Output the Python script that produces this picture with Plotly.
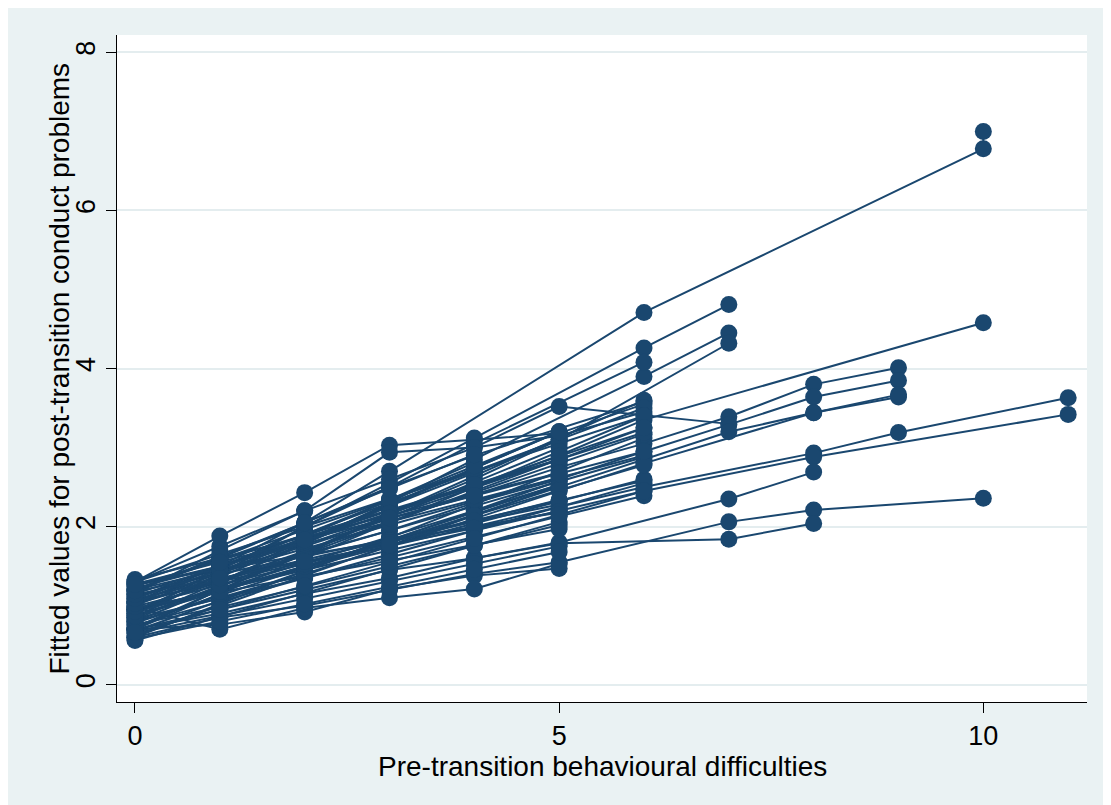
import plotly.graph_objects as go

# ---- data: fitted values per group (x = pre-transition difficulties, y = fitted post-transition conduct problems)
x0to4 = [0, 1, 2, 3, 4]
x0to5 = [0, 1, 2, 3, 4, 5]
x0to6 = [0, 1, 2, 3, 4, 5, 6]

g01_x = [0, 1, 2, 3, 6, 10, 10]
g01_y = [1.05, 1.50, 2.05, 2.70, 4.71, 6.78, 7.00]
g02_x = [0, 1, 2, 3, 4, 6, 7]
g02_y = [0.90, 1.45, 2.00, 2.55, 3.12, 4.26, 4.81]
g03_x = [0, 1, 2, 3, 4, 6, 7]
g03_y = [0.95, 1.30, 1.80, 2.30, 2.85, 3.90, 4.45]
g04_x = [0, 1, 2, 3, 4, 5, 7]
g04_y = [0.70, 1.20, 1.65, 2.15, 2.60, 3.10, 4.32]
g05_x = [0, 1, 2, 3, 4, 6]
g05_y = [0.85, 1.40, 2.00, 2.50, 3.05, 4.08]
g06_x = [0, 1, 2, 3, 4, 6]
g06_y = [1.20, 1.60, 2.05, 2.50, 2.90, 3.58]
g07_x = [0, 1, 2, 3, 4, 5, 7]
g07_y = [1.30, 1.75, 2.20, 2.60, 3.00, 3.52, 3.30]
g08_x = [0, 1, 2, 3, 4, 5, 6, 10]
g08_y = [1.25, 1.50, 1.85, 2.20, 2.50, 2.90, 3.35, 4.58]
g09_x = [0, 1, 2, 3, 4, 5, 6, 7, 8, 9]
g09_y = [1.20, 1.45, 1.75, 2.10, 2.40, 2.75, 3.05, 3.39, 3.80, 4.01]
g10_x = [0, 1, 2, 3, 4, 5, 6, 7, 8, 9]
g10_y = [1.05, 1.30, 1.65, 1.95, 2.30, 2.60, 2.95, 3.29, 3.64, 3.85]
g11_x = [0, 1, 2, 3, 4, 5, 6, 7, 8, 9]
g11_y = [0.95, 1.20, 1.50, 1.80, 2.15, 2.50, 2.85, 3.20, 3.44, 3.64]
g12_x = [0, 1, 2, 3, 4, 5, 6, 8, 9]
g12_y = [0.80, 1.10, 1.40, 1.75, 2.10, 2.45, 2.80, 3.44, 3.67]
g13_x = [0, 1, 2, 3, 4, 5, 6, 8, 9, 11]
g13_y = [1.05, 1.30, 1.55, 1.75, 2.00, 2.25, 2.50, 2.93, 3.19, 3.63]
g14_x = [0, 1, 2, 3, 4, 5, 6, 8, 11]
g14_y = [0.95, 1.20, 1.45, 1.70, 1.95, 2.20, 2.45, 2.88, 3.42]
g15_x = [0, 1, 2, 3, 4, 5, 7, 8]
g15_y = [0.70, 0.95, 1.20, 1.45, 1.60, 1.80, 2.35, 2.69]
g16_x = [0, 1, 2, 3, 4, 5, 7, 8, 10]
g16_y = [0.60, 0.85, 1.00, 1.20, 1.40, 1.55, 2.06, 2.21, 2.36]
g17_x = [0, 1, 2, 3, 4, 5, 7, 8]
g17_y = [0.70, 0.90, 1.15, 1.35, 1.60, 1.79, 1.84, 2.04]

t1_y = [1.30, 1.88, 2.43, 3.03, 3.10, 3.18, 3.55]
t2_y = [1.15, 1.70, 2.20, 2.94, 3.00, 3.15, 3.45]
b1_y = [0.70, 0.76, 0.92, 1.21, 1.38, 1.47]
b2_y = [0.98, 0.70, 0.97, 1.10, 1.21, 1.53]

d01_y = [0.56, 0.86, 1.16, 1.46, 1.76, 2.06]
d02_y = [0.60, 1.02, 1.44, 1.86, 2.28, 2.70, 3.12]
d03_y = [0.65, 0.87, 1.09, 1.31, 1.53, 1.75]
d04_y = [0.68, 1.06, 1.44, 1.82, 2.20, 2.58]
d05_y = [0.72, 1.20, 1.68, 2.16, 2.64, 3.12, 3.60]
d06_y = [0.75, 1.05, 1.35, 1.65, 1.95, 2.25, 2.55]
d07_y = [0.78, 1.13, 1.48, 1.83, 2.18, 2.53]
d08_y = [0.80, 1.24, 1.68, 2.12, 2.56, 3.00]
d09_y = [0.83, 1.09, 1.35, 1.61, 1.87, 2.13, 2.39]
d10_y = [0.85, 1.25, 1.65, 2.05, 2.45, 2.85, 3.25]
d11_y = [0.88, 1.21, 1.54, 1.87, 2.20, 2.53]
d12_y = [0.90, 1.36, 1.82, 2.28, 2.74, 3.20]
d13_y = [0.92, 1.20, 1.48, 1.76, 2.04, 2.32, 2.60]
d14_y = [0.95, 1.32, 1.69, 2.06, 2.43, 2.80, 3.17]
d15_y = [0.97, 1.17, 1.37, 1.57, 1.77, 1.97]
d16_y = [1.00, 1.42, 1.84, 2.26, 2.68, 3.10]
d17_y = [1.02, 1.33, 1.64, 1.95, 2.26, 2.57, 2.88]
d18_y = [1.05, 1.41, 1.77, 2.13, 2.49, 2.85]
d19_y = [1.08, 1.33, 1.58, 1.83, 2.08, 2.33, 2.58]
d20_y = [1.10, 1.50, 1.90, 2.30, 2.70, 3.10, 3.50]
d21_y = [1.12, 1.42, 1.72, 2.02, 2.32, 2.62]
d22_y = [1.15, 1.49, 1.83, 2.17, 2.51, 2.85, 3.19]
d23_y = [1.18, 1.40, 1.62, 1.84, 2.06, 2.28]
d24_y = [1.20, 1.58, 1.96, 2.34, 2.72]
d25_y = [1.22, 1.50, 1.78, 2.06, 2.34, 2.62, 2.90]
d26_y = [1.25, 1.57, 1.89, 2.21, 2.53, 2.85]
d27_y = [1.28, 1.46, 1.64, 1.82, 2.00, 2.18]
d28_y = [1.30, 1.65, 2.00, 2.35, 2.70, 3.05, 3.40]
d29_y = [1.33, 1.60, 1.87, 2.14, 2.41, 2.68]
e01_y = [0.62, 1.00, 1.38, 1.76, 2.14, 2.52]
e02_y = [0.70, 1.15, 1.60, 2.05, 2.50, 2.95, 3.40]
e03_y = [0.76, 0.98, 1.24, 1.50, 1.76, 2.02]
e04_y = [0.82, 1.30, 1.78, 2.26, 2.74, 3.20]
e05_y = [0.87, 1.18, 1.50, 1.82, 2.14, 2.46, 2.78]
e06_y = [0.93, 1.40, 1.87, 2.34, 2.81]
e07_y = [0.99, 1.26, 1.53, 1.80, 2.07, 2.34]
e08_y = [1.03, 1.46, 1.90, 2.33, 2.77, 3.20]
e09_y = [1.09, 1.45, 1.81, 2.17, 2.53, 2.89, 3.25]
e10_y = [1.14, 1.35, 1.56, 1.77, 1.98, 2.19]
e11_y = [1.19, 1.62, 2.05, 2.48, 2.91]
e12_y = [1.27, 1.55, 1.83, 2.11, 2.39, 2.67, 2.95]
e13_y = [0.58, 0.80, 1.02, 1.24, 1.46, 1.68]
e14_y = [0.66, 0.95, 1.25, 1.55, 1.85, 2.15, 2.45]

x_ticks = [0, 5, 10]
y_ticks = [0, 2, 4, 6, 8]
x_title = "Pre-transition behavioural difficulties"
y_title = "Fitted values for post-transition conduct problems"

groups = [
    (g01_x, g01_y), (g02_x, g02_y), (g03_x, g03_y), (g04_x, g04_y), (g05_x, g05_y),
    (g06_x, g06_y), (g07_x, g07_y), (g08_x, g08_y), (g09_x, g09_y), (g10_x, g10_y),
    (g11_x, g11_y), (g12_x, g12_y), (g13_x, g13_y), (g14_x, g14_y), (g15_x, g15_y),
    (g16_x, g16_y), (g17_x, g17_y),
    (x0to6, t1_y), (x0to6, t2_y), (x0to5, b1_y), (x0to5, b2_y),
]
for ys in [d01_y, d02_y, d03_y, d04_y, d05_y, d06_y, d07_y, d08_y, d09_y, d10_y,
           d11_y, d12_y, d13_y, d14_y, d15_y, d16_y, d17_y, d18_y, d19_y, d20_y,
           d21_y, d22_y, d23_y, d24_y, d25_y, d26_y, d27_y, d28_y, d29_y,
           e01_y, e02_y, e03_y, e04_y, e05_y, e06_y, e07_y, e08_y, e09_y, e10_y,
           e11_y, e12_y, e13_y, e14_y]:
    xs = {5: x0to4, 6: x0to5, 7: x0to6}[len(ys)]
    groups.append((xs, ys))

xs_all, ys_all = [], []
for gx, gy in groups:
    xs_all += list(gx) + [None]
    ys_all += list(gy) + [None]

NAVY = "#1a476f"
BG = "#eaf2f3"
FONT = "Liberation Sans, Arial, sans-serif"

fig = go.Figure()
fig.add_trace(go.Scatter(
    x=xs_all, y=ys_all, mode="lines+markers",
    line=dict(color=NAVY, width=2),
    marker=dict(color=NAVY, size=17, line=dict(width=0)),
    showlegend=False, hoverinfo="skip",
))

W, H = 1111, 805
L, T = 109, 27
PW, PH = 970, 667

fig.update_layout(
    width=W, height=H,
    margin=dict(l=L, r=W - L - PW, t=T, b=H - T - PH, pad=0),
    paper_bgcolor=BG, plot_bgcolor="white",
    font=dict(family=FONT, size=27, color="#000000"),
    xaxis=dict(
        range=[-0.212, 11.222], tickvals=x_ticks, ticktext=[str(v) for v in x_ticks],
        showgrid=False, zeroline=False, showline=True, linecolor="#000000", linewidth=1,
        ticks="outside", ticklen=10, tickcolor="#000000", tickwidth=1, automargin=False,
        tickfont=dict(size=27),
    ),
    yaxis=dict(
        range=[-0.219, 8.22], tickvals=y_ticks, ticktext=[str(v) for v in y_ticks],
        showgrid=True, gridcolor="#e4edef", gridwidth=2, zeroline=False,
        showline=True, linecolor="#000000", linewidth=1, automargin=False,
        ticks="outside", ticklen=10, tickcolor="#000000", tickwidth=1, tickangle=-90,
        tickfont=dict(size=27),
    ),
    annotations=[
        dict(text=x_title, xref="paper", yref="paper", x=0.5, y=(T + PH - 758) / PH,
             xanchor="center", yanchor="middle", showarrow=False, font=dict(size=28)),
        dict(text=y_title, xref="paper", yref="paper", x=(51 - L) / PW, y=0.5,
             xanchor="center", yanchor="middle", textangle=-90, showarrow=False,
             font=dict(size=28)),
    ],
)

fig.write_html("out.html")
